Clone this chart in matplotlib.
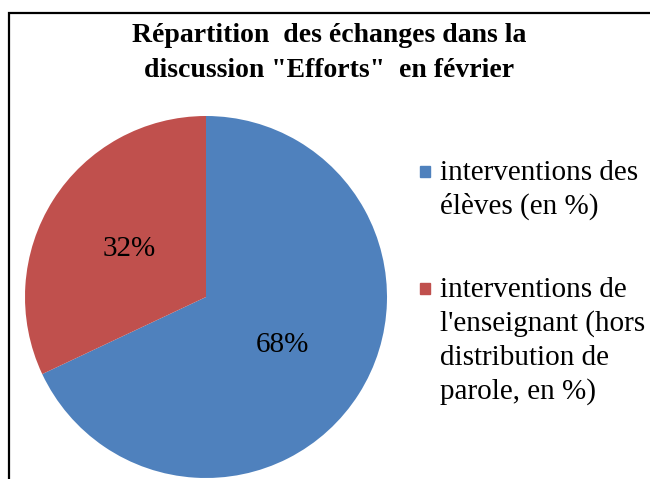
import matplotlib.pyplot as plt
from matplotlib.patches import Rectangle

title = 'Répartition  des échanges dans la\ndiscussion "Efforts"  en février'
labels = ["interventions des\nélèves (en %)",
          "interventions de\nl'enseignant (hors\ndistribution de\nparole, en %)"]
values = [68, 32]
colors = ['#4F81BD', '#C0504D']

W, H = 650, 479
fig = plt.figure(figsize=(W / 100, H / 100), dpi=100)
plt.rcParams['font.family'] = ['Liberation Serif', 'DejaVu Serif']

def px(x, y):
    # pixels depuis le coin haut-gauche -> coordonnées figure
    return x / W, 1 - y / H

# cadre (coupé à droite et en bas)
fig.patches.append(Rectangle((9 / W, -0.1), 1.2, 1 - 13 / H + 0.1,
                             transform=fig.transFigure, fill=False,
                             edgecolor='black', linewidth=1.6))

# camembert
cx, cy, r = 206, 297, 181
ax = fig.add_axes([(cx - r) / W, (H - cy - r) / H, 2 * r / W, 2 * r / H])
wedges, texts, autotexts = ax.pie(values, colors=colors, startangle=90,
                                  counterclock=False, autopct='%1.0f%%',
                                  pctdistance=0.5,
                                  textprops={'fontsize': 21, 'color': 'black'})
ax.set_xlim(-1, 1)
ax.set_ylim(-1, 1)
ax.set_aspect('equal')

# titre, ligne par ligne
for i, line in enumerate(title.split('\n')):
    fig.text(*px(329, 42 + 35 * i), line, ha='center', va='baseline',
             fontsize=20, fontweight='bold')

# légende
leg_y = [180, 297]
for lab, col, y in zip(labels, colors, leg_y):
    fig.patches.append(Rectangle(px(420, y - 3), 10 / W, 11 / H,
                                 transform=fig.transFigure, color=col))
    for i, line in enumerate(lab.split('\n')):
        fig.text(*px(440, y + 34 * i), line, ha='left', va='baseline',
                 fontsize=21)

fig.savefig('out.png', dpi=100)
